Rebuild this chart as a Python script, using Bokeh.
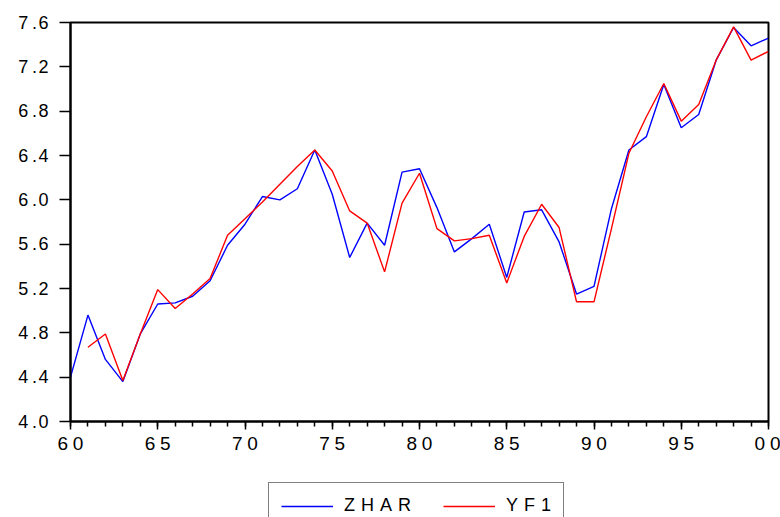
import math
from bokeh.plotting import figure
from bokeh.layouts import column
from bokeh.models import (ColumnDataSource, SingleIntervalTicker, FixedTicker,
                          CustomJSTickFormatter, Legend, LegendItem, Range1d)
from bokeh.embed import file_html
from bokeh.resources import INLINE

years = list(range(1960, 2001))
zhar = [4.40, 4.96, 4.56, 4.36, 4.79, 5.06, 5.07, 5.13, 5.27, 5.59, 5.78,
        6.03, 6.00, 6.10, 6.45, 6.05, 5.48, 5.79, 5.59, 6.25, 6.28,
        5.93, 5.53, 5.65, 5.78, 5.30, 5.89, 5.91, 5.62, 5.15, 5.22,
        5.92, 6.45, 6.57, 7.04, 6.65, 6.77, 7.26, 7.555, 7.39, 7.46]
yf1 = [float("nan"), 4.67, 4.79, 4.37, 4.79, 5.19, 5.02, 5.15, 5.29, 5.68, 5.83,
       5.98, 6.14, 6.30, 6.45, 6.26, 5.90, 5.79, 5.35, 5.97, 6.24,
       5.74, 5.63, 5.65, 5.68, 5.25, 5.67, 5.96, 5.75, 5.08, 5.08,
       5.74, 6.42, 6.75, 7.05, 6.71, 6.86, 7.26, 7.56, 7.26, 7.34]
y_ticks = [4.0, 4.4, 4.8, 5.2, 5.6, 6.0, 6.4, 6.8, 7.2, 7.6]
series_names = ["ZHAR", "YF1"]
series_colors = ["#0000FF", "#FF0000"]

src = ColumnDataSource(dict(year=years, zhar=zhar, yf1=yf1))

font = "Liberation Sans"

p = figure(width=780, height=470, output_backend="svg", toolbar_location=None,
           x_range=Range1d(1960, 2000), y_range=Range1d(4.0, 7.6),
           min_border_left=70, min_border_right=12, min_border_top=22,
           min_border_bottom=49)
p.xgrid.visible = False
p.ygrid.visible = False
p.outline_line_color = "black"
p.outline_line_width = 2
p.background_fill_color = "white"
p.border_fill_color = "white"

p.line("year", "zhar", source=src, line_color=series_colors[0], line_width=1.4)
p.line("year", "yf1", source=src, line_color=series_colors[1], line_width=1.4)

xa = p.xaxis[0]
xa.ticker = SingleIntervalTicker(interval=5, num_minor_ticks=5)
xa.formatter = CustomJSTickFormatter(code="""
const s = String(Math.round(tick) % 100).padStart(2, '0');
return s.split('').join('\\u2005');
""")
xa.axis_line_width = 2
xa.major_tick_line_width = 1.5
xa.minor_tick_line_width = 1.5
xa.major_tick_out = 8
xa.major_tick_in = 0
xa.minor_tick_out = 5
xa.minor_tick_in = 0
xa.major_label_standoff = 3
xa.major_label_text_font = font
xa.major_label_text_font_size = "19px"
xa.major_label_text_color = "black"

ya = p.yaxis[0]
ya.ticker = FixedTicker(ticks=y_ticks, minor_ticks=[])
ya.formatter = CustomJSTickFormatter(code="""
const s = tick.toFixed(1);
return s[0] + '\\u2009.\\u200a' + s[2];
""")
ya.axis_line_width = 2
ya.major_tick_line_width = 1.5
ya.major_tick_out = 11
ya.major_tick_in = 0
ya.minor_tick_out = 0
ya.minor_tick_in = 0
ya.major_label_standoff = 11
ya.major_label_text_font = font
ya.major_label_text_font_size = "18px"
ya.major_label_text_color = "black"

# legend strip below the chart (its frame is aligned with the chart frame)
pl = figure(width=780, height=47, output_backend="svg", toolbar_location=None,
            x_range=Range1d(0, 1), y_range=Range1d(0, 1),
            x_axis_type=None, y_axis_type=None,
            min_border_left=0, min_border_right=0, min_border_top=0,
            min_border_bottom=0)
pl.outline_line_color = None
pl.xgrid.visible = False
pl.ygrid.visible = False
pl.background_fill_color = "white"
pl.border_fill_color = "white"
# same series, outside this strip's view: only used for the legend swatches
l1 = pl.line("year", "zhar", source=src, line_color=series_colors[0], line_width=1.4)
l2 = pl.line("year", "yf1", source=src, line_color=series_colors[1], line_width=1.4)

sp = "\u2004"
legend = Legend(items=[LegendItem(label=sp.join(series_names[0]), renderers=[l1]),
                       LegendItem(label=sp.join(series_names[1]), renderers=[l2])],
                orientation="horizontal", location=(198, -12),
                padding=12, spacing=32, label_standoff=11,
                glyph_width=52, glyph_height=20, label_height=20,
                label_text_font=font, label_text_font_size="18px",
                label_text_color="black",
                border_line_color="black", border_line_width=1.5,
                background_fill_alpha=1.0, margin=0)
pl.add_layout(legend, "center")

layout = column(p, pl, spacing=0)
open("out.html", "w").write(file_html(layout, INLINE))
